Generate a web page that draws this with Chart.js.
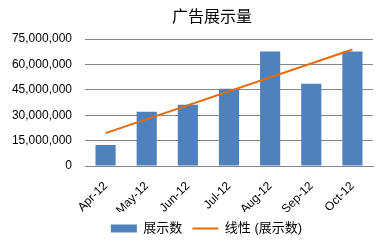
<!DOCTYPE html>
<html>
<head>
<meta charset="utf-8">
<script src="https://cdn.jsdelivr.net/npm/chart.js@4.4.1/dist/chart.umd.min.js"></script>
<style>
  html, body { margin: 0; padding: 0; background: #fff; }
  #wrap { width: 380px; height: 247px; }
</style>
</head>
<body>
<div id="wrap"><canvas id="adChart"></canvas></div>
<script>
const months = ['Apr-12', 'May-12', 'Jun-12', 'Jul-12', 'Aug-12', 'Sep-12', 'Oct-12'];
const impressions = [12400000, 32000000, 36200000, 45600000, 67600000, 48600000, 67600000];
// trendline: only its two ends
const trend = [19400000, null, null, null, null, null, 68800000];
const yTicks = [0, 15000000, 30000000, 45000000, 60000000, 75000000];

const FONT = '"Liberation Sans", "Noto Sans CJK SC", sans-serif';

// title and legend sit a bit right of the canvas centre in the original
const titlePlugin = {
  id: 'sideTitle',
  afterUpdate(chart) {
    const lg = chart.legend;
    if (lg) { lg.left += 20; lg.right += 20; }
  },
  afterDraw(chart) {
    const c = chart.ctx;
    c.save();
    c.font = '16px "Noto Sans CJK SC", sans-serif';
    c.fillStyle = '#000';
    c.textAlign = 'center';
    c.textBaseline = 'middle';
    c.fillText('广告展示量', 212, 16);
    c.restore();
  }
};

const ctx = document.getElementById('adChart');

new Chart(ctx, {
  type: 'bar',
  data: {
    labels: months,
    datasets: [
      {
        label: '展示数',
        data: impressions,
        backgroundColor: '#4F81BD',
        borderWidth: 0,
        barPercentage: 0.49,
        categoryPercentage: 1,
        pointStyle: 'rect',
        order: 2
      },
      {
        type: 'line',
        label: '线性 (展示数)',
        data: trend,
        spanGaps: true,
        borderColor: '#E46C0A',
        backgroundColor: '#E46C0A',
        borderWidth: 2,
        pointRadius: 0,
        pointStyle: 'line',
        order: 1
      }
    ]
  },
  options: {
    responsive: true,
    maintainAspectRatio: false,
    animation: false,
    layout: { padding: { left: 0, right: 7, top: 39, bottom: 2 } },
    plugins: {
      title: { display: false },
      tooltip: { enabled: false },
      legend: {
        position: 'bottom',
        labels: {
          usePointStyle: true,
          pointStyleWidth: 26,
          boxHeight: 8,
          padding: 10,
          color: '#000',
          font: { family: FONT, size: 13 },
          sort: (a, b) => a.datasetIndex - b.datasetIndex
        }
      }
    },
    scales: {
      x: {
        grid: { display: false },
        border: { display: true, color: '#868686', width: 1 },
        ticks: {
          maxRotation: 45,
          minRotation: 45,
          color: '#000',
          padding: 5,
          font: { family: FONT, size: 12 }
        },
        afterFit(scale) { scale.height = 46; }
      },
      y: {
        min: 0,
        max: 75000000,
        afterBuildTicks(scale) { scale.ticks = yTicks.map(v => ({ value: v })); },
        grid: { color: '#868686', drawTicks: false },
        border: { display: false },
        ticks: {
          padding: 13,
          color: '#000',
          font: { family: FONT, size: 12 },
          callback: v => Number(v).toLocaleString('en-US')
        },
        afterFit(scale) { scale.width = 85; }
      }
    }
  },
  plugins: [titlePlugin]
});
</script>
</body>
</html>
